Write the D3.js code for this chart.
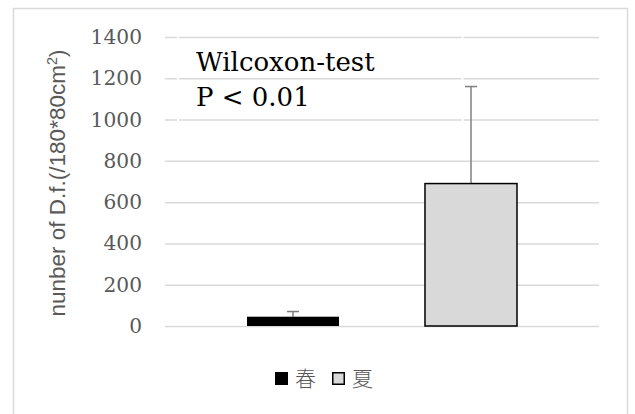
<!DOCTYPE html>
<html>
<head>
<meta charset="utf-8">
<script src="https://cdn.jsdelivr.net/npm/d3@7"></script>
<style>
  body { margin: 0; background: #fff; }
  svg { display: block; }
</style>
</head>
<body>
<svg id="chart" width="635" height="414"></svg>
<script>
var seasons = ["春", "夏"];
var means = [45, 690];
var errTop = [70, 1160];
var yTicks = [0, 200, 400, 600, 800, 1000, 1200, 1400];
var barFill = ["#000000", "#d9d9d9"];

var plotLeft = 165, plotRight = 599, plotTop = 37, plotBottom = 326;

var svg = d3.select("#chart");

// outer frame (no bottom edge, picture is cropped)
svg.append("path")
  .attr("d", "M13.5,414 V8.5 H627.5 V414")
  .attr("fill", "none")
  .attr("stroke", "#d9d9d9")
  .attr("stroke-width", 1.5);

var y = d3.scaleLinear().domain([0, 1400]).range([plotBottom, plotTop]);
var x = d3.scaleBand().domain(seasons).range([plotLeft, plotRight])
  .paddingInner(0.483).paddingOuter(0.4607);

var yAxis = svg.append("g")
  .attr("transform", "translate(" + plotLeft + ",0)")
  .call(d3.axisLeft(y).tickValues(yTicks).tickFormat(d3.format("d"))
    .tickSize(-(plotRight - plotLeft)).tickPadding(23));
yAxis.select(".domain").remove();
yAxis.selectAll(".tick line")
  .attr("stroke", "#d9d9d9")
  .attr("stroke-width", 1.5);
yAxis.selectAll(".tick text")
  .attr("fill", "#595959")
  .attr("font-family", "DejaVu Serif")
  .attr("font-size", 20.2);

// text box outline leaves small gaps in the grid
svg.append("rect")
  .attr("x", 178).attr("y", 26)
  .attr("width", 284.5).attr("height", 112)
  .attr("fill", "none")
  .attr("stroke", "#fff")
  .attr("stroke-width", 2);

// error bars
svg.selectAll(".err")
  .data(seasons)
  .enter().append("g")
  .attr("class", "err")
  .each(function(d, i) {
    var cx = x(d) + x.bandwidth() / 2;
    var g = d3.select(this);
    g.append("line")
      .attr("x1", cx).attr("x2", cx)
      .attr("y1", y(means[i])).attr("y2", y(errTop[i]))
      .attr("stroke", "#7f7f7f").attr("stroke-width", 1.5);
    g.append("line")
      .attr("x1", cx - 6).attr("x2", cx + 6)
      .attr("y1", y(errTop[i])).attr("y2", y(errTop[i]))
      .attr("stroke", "#7f7f7f").attr("stroke-width", 1.5);
  });

// bars
svg.selectAll(".bar")
  .data(seasons)
  .enter().append("rect")
  .attr("class", "bar")
  .attr("x", function(d) { return x(d); })
  .attr("y", function(d, i) { return y(means[i]); })
  .attr("width", x.bandwidth())
  .attr("height", function(d, i) { return y(0) - y(means[i]); })
  .attr("fill", function(d, i) { return barFill[i]; })
  .attr("stroke", "#000")
  .attr("stroke-width", function(d, i) { return i === 0 ? 0 : 1.5; });

// annotation
var note = svg.append("text")
  .attr("font-family", "DejaVu Serif")
  .attr("font-size", 26)
  .attr("fill", "#000");
note.append("tspan").attr("x", 196).attr("y", 71).text("Wilcoxon-test");
note.append("tspan").attr("x", 196).attr("y", 106).text("P < 0.01");

// y axis title
var title = svg.append("text")
  .attr("transform", "translate(65," + 183 + ") rotate(-90)")
  .attr("text-anchor", "middle")
  .attr("font-family", "'Liberation Sans', Arial, sans-serif")
  .attr("font-size", 22.5)
  .attr("fill", "#595959");
title.append("tspan").text("nunber of D.f.(/180*80cm");
title.append("tspan").attr("font-size", 14.5).attr("dy", -8).text("2");
title.append("tspan").attr("dy", 8).text(")");

// legend
var legendX = [275, 332];
var leg = svg.selectAll(".leg")
  .data(seasons)
  .enter().append("g")
  .attr("class", "leg")
  .attr("transform", function(d, i) { return "translate(" + legendX[i] + ",372)"; });
leg.append("rect")
  .attr("x", function(d, i) { return i === 0 ? 0 : 0.75; })
  .attr("y", function(d, i) { return i === 0 ? 0 : 0.75; })
  .attr("width", function(d, i) { return i === 0 ? 13 : 11.5; })
  .attr("height", function(d, i) { return i === 0 ? 13 : 11.5; })
  .attr("fill", function(d, i) { return barFill[i]; })
  .attr("stroke", "#000")
  .attr("stroke-width", function(d, i) { return i === 0 ? 0 : 1.5; });
leg.append("text")
  .attr("x", 20)
  .attr("y", 14)
  .attr("font-family", "Noto Sans CJK JP")
  .attr("font-weight", 300)
  .attr("font-size", 21)
  .attr("fill", "#595959")
  .text(function(d) { return d; });
</script>
</body>
</html>
